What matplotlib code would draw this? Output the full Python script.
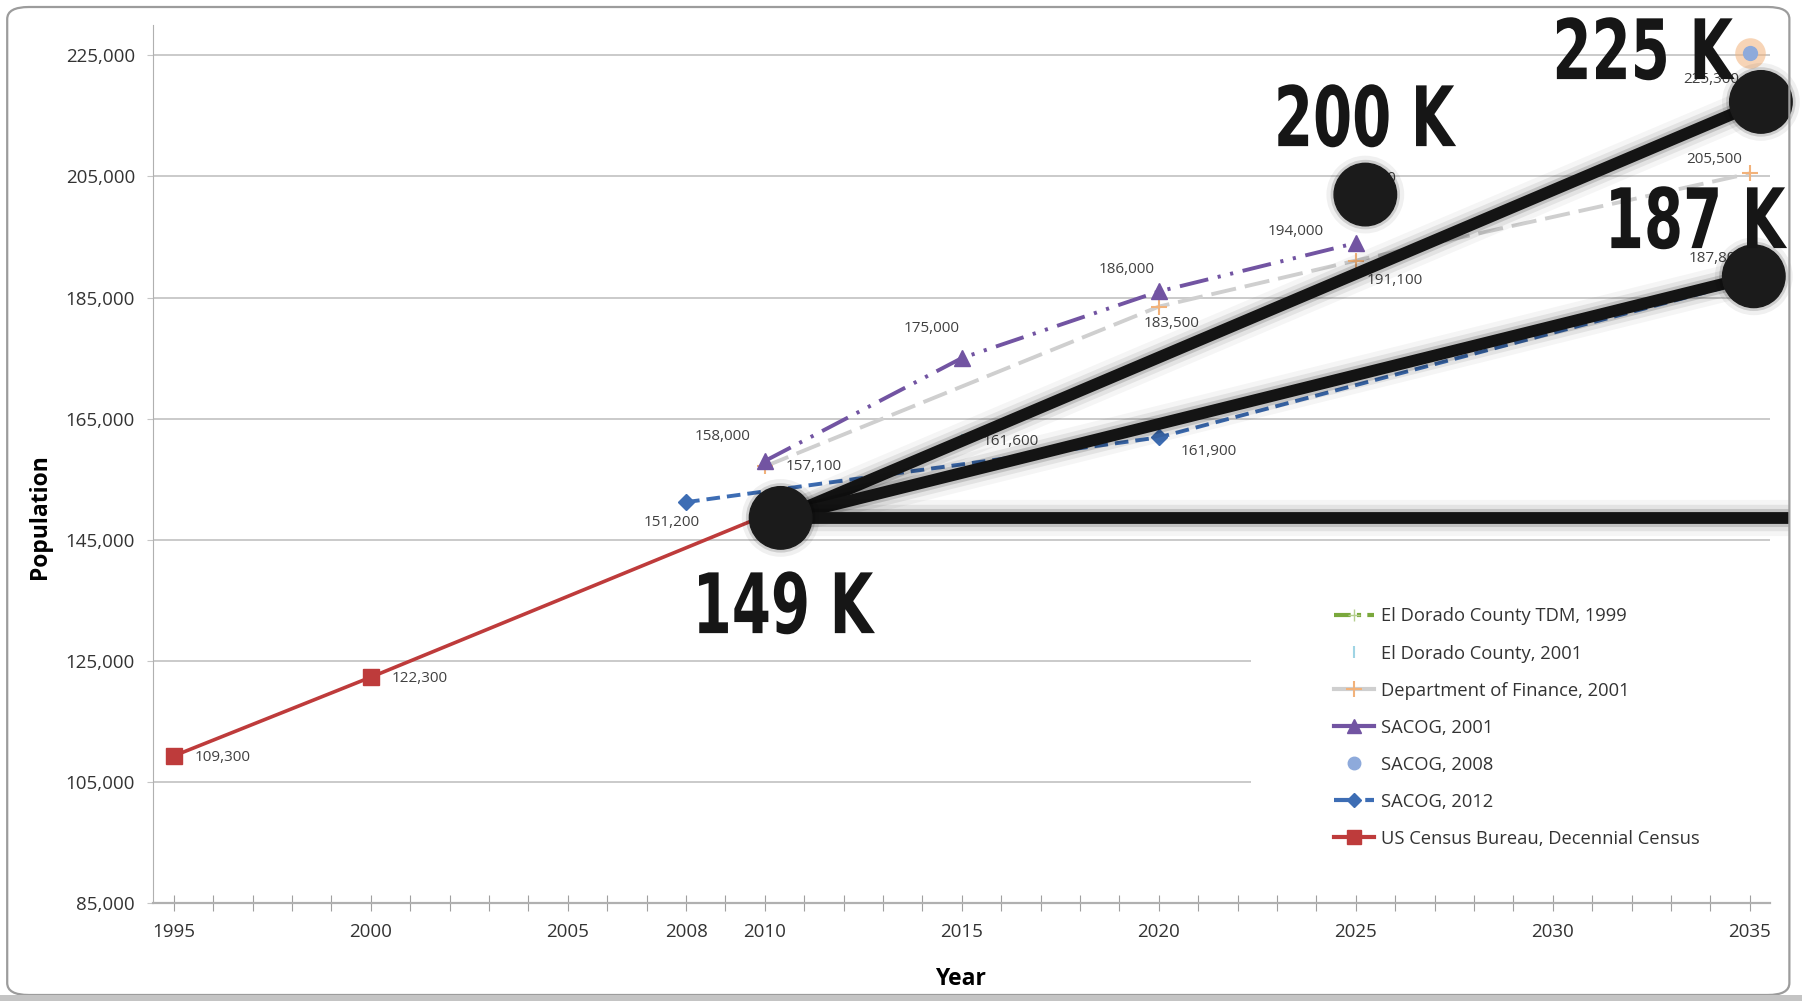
import matplotlib
matplotlib.use('Agg')
import matplotlib.pyplot as plt
from matplotlib.lines import Line2D
from matplotlib.patches import Rectangle, FancyBboxPatch
from matplotlib.transforms import Affine2D
import matplotlib.patheffects as pe
from matplotlib import font_manager

# ---------------- data ----------------
census_years = [1995, 2000, 2010]
census_pop = [109300, 122300, 149000]
census_labels = ['109,300', '122,300', '']

sacog2012_years = [2008, 2020, 2035]
sacog2012_pop = [151200, 161900, 187800]
sacog2012_labels = ['151,200', '161,900', '187,800']

sacog2001_years = [2010, 2015, 2020, 2025]
sacog2001_pop = [158000, 175000, 186000, 194000]
sacog2001_labels = ['158,000', '175,000', '186,000', '194,000']

dof2001_years = [2010, 2020, 2025, 2035]
dof2001_pop = [157100, 183500, 191100, 205500]
dof2001_labels = ['157,100', '183,500', '191,100', '205,500']

eldorado2001_years = [2015]
eldorado2001_pop = [161600]
eldorado2001_labels = ['161,600']

sacog2008_years = [2025, 2035]
sacog2008_pop = [200000, 225300]
sacog2008_labels = ['200,000', '225,300']

# highlighted scenarios drawn over the chart
hub_year, hub_pop = 2010.4, 148600
fan_end_years = [2035.28, 2035.1, 2036.0]
fan_end_pop = [217300, 188500, 148600]
dot_years = [2010.4, 2025.24, 2035.28, 2035.1]
dot_pop = [148600, 202000, 217300, 188500]
big_texts = ['225 K', '200 K', '187 K', '149 K']
big_years = [2032.28, 2025.21, 2033.61, 2010.46]
big_pop = [221070, 210000, 193160, 129570]

xtick_years = [1995, 2000, 2005, 2008, 2010, 2015, 2020, 2025, 2030, 2035]
ytick_values = [85000, 105000, 125000, 145000, 165000, 185000, 205000, 225000]

legend_labels = ['El Dorado County TDM, 1999', 'El Dorado County, 2001',
                 'Department of Finance, 2001', 'SACOG, 2001', 'SACOG, 2008',
                 'SACOG, 2012', 'US Census Bureau, Decennial Census']

# ---------------- fonts ----------------
avail = {f.name for f in font_manager.fontManager.ttflist}
SMALL = 'Open Sans' if 'Open Sans' in avail else 'DejaVu Sans'
plt.rcParams['font.family'] = [SMALL, 'DejaVu Sans']

fig = plt.figure(figsize=(18.02, 10.01), dpi=100)
ax = fig.add_axes([0.0849, 0.0979, 0.8971, 0.8771])
ax.set_xlim(1994.47, 2035.5)
ax.set_ylim(85000, 230000)


class HCondense(pe.AbstractPathEffect):
    """Squeeze text horizontally about its anchor (imitates a condensed face)."""
    def __init__(self, sx, anchor):
        super().__init__()
        self.sx = sx
        self.anchor = anchor

    def draw_path(self, renderer, gc, tpath, affine, rgbFace=None):
        cx = ax.transData.transform(self.anchor)[0]
        t = affine + Affine2D().translate(-cx, 0).scale(self.sx, 1).translate(cx, 0)
        renderer.draw_path(gc, tpath, t, rgbFace)


# grid / spines
ax.set_yticks(ytick_values)
ax.set_yticklabels([f'{v:,}' for v in ytick_values])
ax.yaxis.grid(True, color='#c6c6c6', lw=1.3, zorder=0)
ax.set_axisbelow(True)
for s in ['top', 'right']:
    ax.spines[s].set_visible(False)
ax.spines['left'].set_color('#b0b0b0')
ax.spines['bottom'].set_color('#b0b0b0')
ax.spines['bottom'].set_linewidth(1.6)
ax.tick_params(axis='y', length=4, color='#c6c6c6', pad=9, labelsize=13.5, labelcolor='#333333')
all_years = list(range(1995, 2036))
ax.set_xticks(all_years)
ax.set_xticklabels([str(y) if y in xtick_years else '' for y in all_years])
ax.tick_params(axis='x', direction='inout', length=11, color='#a0a0a0', pad=9,
               labelsize=13.5, labelcolor='#333333')

ax.set_ylabel('Population', fontsize=16.5, fontweight='bold')
ax.yaxis.set_label_coords(-0.070, 0.44)
ax.yaxis.label.set_va('center')
ax.set_xlabel('Year', fontsize=16.5, fontweight='bold')
ax.xaxis.set_label_coords(0.4996, -0.0866)
ax.xaxis.label.set_va('center')

# legend background box (hides the lower gridlines)
ax.add_patch(Rectangle((0.679, 0.034), 0.33, 0.34, transform=ax.transAxes,
                       facecolor='white', edgecolor='none', zorder=1.5, clip_on=False))

RED = '#be3b3b'
BLUE = '#3d6db4'
PURPLE = '#7254a2'
GRAY = '#cfcfcf'
ORANGE = '#f2b27a'
LBLUE = '#8eaadb'
GREEN = '#7aa83c'
LABC = '#404040'

# series
ax.plot(census_years, census_pop, color=RED, lw=2.6, marker='s', ms=11,
        markevery=[0, 1], zorder=3)
ax.plot(sacog2012_years, sacog2012_pop, color=BLUE, lw=2.8, ls=(0, (3.5, 1.8)),
        marker='D', ms=8, markevery=[0, 1], zorder=3)
ax.plot(dof2001_years, dof2001_pop, color=GRAY, lw=2.8, ls=(0, (6.5, 2.3)),
        marker='+', ms=11, mec=ORANGE, mew=1.5, zorder=3)
ax.plot(sacog2001_years, sacog2001_pop, color=PURPLE, lw=2.8,
        ls=(0, (7.5, 2.5, 0.8, 2.5, 0.8, 2.5)), marker='^', ms=11, zorder=3.2)
ax.plot(eldorado2001_years, eldorado2001_pop, ls='none', marker='|', ms=7,
        mec='#9fd4e4', mew=1.5, zorder=3)
ax.plot(sacog2008_years, sacog2008_pop, ls='none', marker='o', ms=22,
        color=ORANGE, alpha=0.55, mec='none', zorder=3)
ax.plot(sacog2008_years, sacog2008_pop, ls='none', marker='o', ms=11,
        color=LBLUE, mec='none', zorder=3.1)

def label_points(xs, ys, labels, offsets):
    for x, y, t, (dx, dy) in zip(xs, ys, labels, offsets):
        if t:
            ax.annotate(t, (x, y), xytext=(dx, dy), textcoords='offset points',
                        ha='center', va='center', fontsize=11, color=LABC, zorder=4)

label_points(census_years, census_pop, census_labels, [(35, -1), (35.5, -1), (0, 0)])
label_points(sacog2012_years, sacog2012_pop, sacog2012_labels,
             [(-10, -15), (36, -10), (-24, 16)])
label_points(sacog2001_years, sacog2001_pop, sacog2001_labels,
             [(-30.5, 17.5), (-22, 21), (-23, 16), (-43, 8)])
label_points(dof2001_years, dof2001_pop, dof2001_labels,
             [(35.5, 0), (9, -12), (28, -14), (-25.5, 10)])
label_points(eldorado2001_years, eldorado2001_pop, eldorado2001_labels, [(35.5, -2)])
label_points(sacog2008_years, sacog2008_pop, sacog2008_labels, [(9, 20), (-28, -19)])

# highlighted fan lines with soft shadow
shadow = [pe.Stroke(linewidth=26, foreground='#000000', alpha=0.04),
          pe.Stroke(linewidth=19, foreground='#000000', alpha=0.07),
          pe.Stroke(linewidth=13, foreground='#000000', alpha=0.14),
          pe.Normal()]
for ex, ey in zip(fan_end_years, fan_end_pop):
    ax.plot([hub_year, ex], [hub_pop, ey], color='#141414', lw=8.5,
            solid_capstyle='butt', zorder=5, path_effects=shadow, clip_on=False)
dot_shadow = [pe.Stroke(linewidth=11, foreground='#000000', alpha=0.06),
              pe.Stroke(linewidth=5, foreground='#000000', alpha=0.14),
              pe.Normal()]
ax.plot(dot_years, dot_pop, ls='none', marker='o', ms=45, color='#1b1b1b',
        mec='#1b1b1b', zorder=6, path_effects=dot_shadow, clip_on=False)

for t, x, y in zip(big_texts, big_years, big_pop):
    ax.text(x, y, t, fontsize=60, fontweight='bold', family='DejaVu Sans',
            color='#161616', ha='center', va='baseline', zorder=7, clip_on=False,
            path_effects=[HCondense(0.675, (x, y))])

# legend
handles = [
    Line2D([], [], color=GREEN, lw=3, ls=(0, (4, 1.5, 1, 1.5)), marker='+', ms=9,
           mec='#b5cf8f'),
    Line2D([], [], ls='none', marker='|', ms=8, mec='#9fd4e4', mew=1.5),
    Line2D([], [], color=GRAY, lw=3, marker='+', ms=11, mec=ORANGE, mew=1.5),
    Line2D([], [], color=PURPLE, lw=3, marker='^', ms=10),
    Line2D([], [], ls='none', marker='o', ms=9, color=LBLUE),
    Line2D([], [], color=BLUE, lw=3, ls=(0, (6, 1.5)), marker='D', ms=7),
    Line2D([], [], color=RED, lw=3, marker='s', ms=10),
]
leg = ax.legend(handles, legend_labels, loc='upper left', bbox_to_anchor=(0.726, 0.345),
                frameon=False, fontsize=13.2, handlelength=2.2, handletextpad=0.35,
                labelspacing=1.04, borderaxespad=0)
for t in leg.get_texts():
    t.set_color('#333333')
leg.set_zorder(2)

# outer rounded frame
fig.patches.append(FancyBboxPatch((0.004, 0.006), 0.989, 0.987,
                                  boxstyle='round,pad=0,rounding_size=0.012',
                                  transform=fig.transFigure, fill=False,
                                  ec='#9c9c9c', lw=1.6))
fig.patches.append(Rectangle((0, 0), 1, 0.006, transform=fig.transFigure,
                             facecolor='#c4c4c4', edgecolor='none'))

fig.savefig('out.png', dpi=100)
